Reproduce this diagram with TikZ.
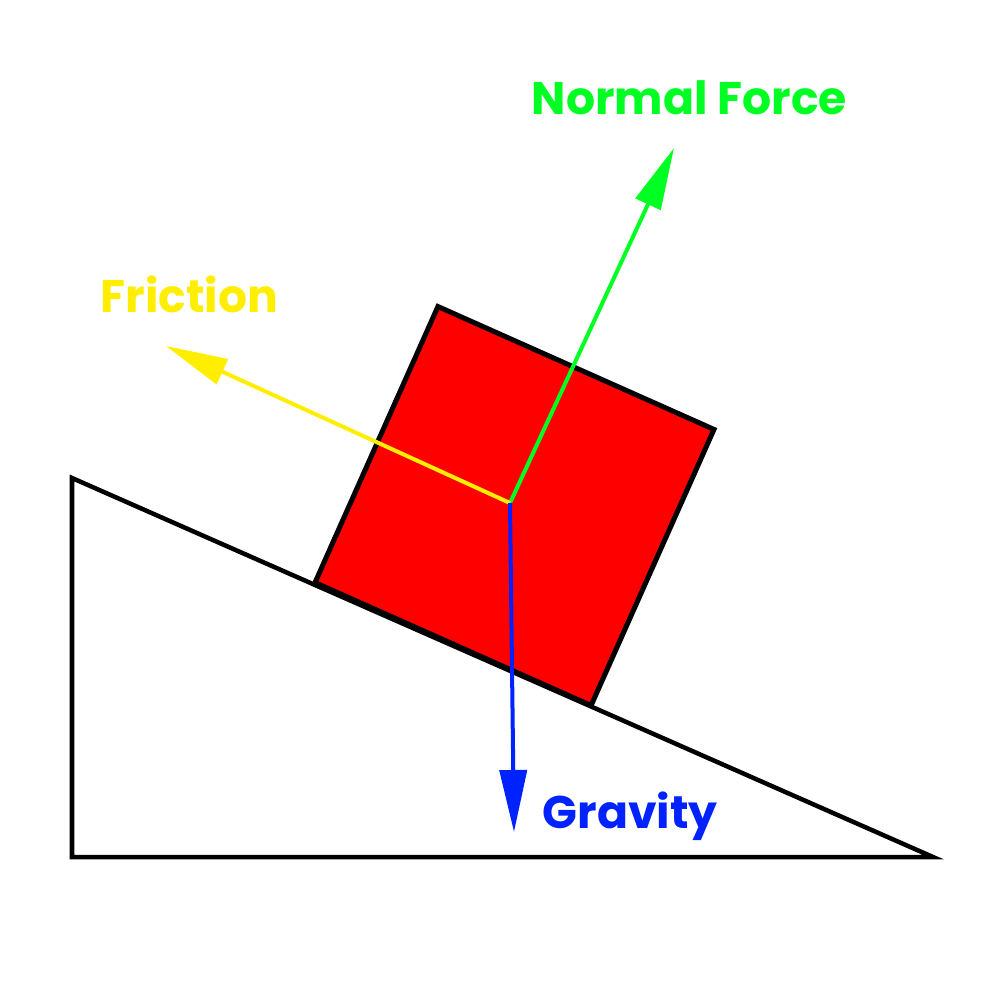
\documentclass[tikz,border=0pt]{standalone}
\usepackage{fontspec}
\setmainfont{Poppins}[BoldFont={Poppins Bold}]
\usetikzlibrary{arrows.meta}
\definecolor{normalgreen}{RGB}{0,255,34}
\definecolor{frictionyellow}{RGB}{255,238,0}
\definecolor{gravityblue}{RGB}{0,34,255}
\tikzset{force/.style={line width=0.04cm,-{Triangle[length=0.62cm,width=0.27cm]}}}
\tikzset{forcelabel/.style={anchor=base west,inner sep=0pt,font=\fontsize{13}{15}\selectfont\bfseries}}

\begin{document}
\begin{tikzpicture}[x=0.01cm,y=-0.01cm]
	\useasboundingbox (0,0) rectangle (1000,1000);
	% ramp
	\draw[line width=0.045cm,miter limit=20] (72,478) -- (72,857) -- (933,857) -- cycle;
	% block
	\node (block) [draw=black, fill=red, line width=0.05cm, minimum size=3.02cm, rotate=-24, inner sep=0pt] at (514.5,506) {};
	\coordinate (c) at (510,503);
	\coordinate (n) at (674,148);
	\coordinate (f) at (166,346);
	\coordinate (g) at (514,832);
	\draw[force, normalgreen] (c) -- (n);
	\draw[force, frictionyellow] (c) -- (f);
	\draw[force, gravityblue] (c) -- (g);
	\node (nlabel) [forcelabel, text=normalgreen] at (531,114) {Normal Force};
	\node (flabel) [forcelabel, text=frictionyellow] at (100,312) {Friction};
	\node (glabel) [forcelabel, text=gravityblue] at (542,828) {Gravity};
\end{tikzpicture}
\end{document}
